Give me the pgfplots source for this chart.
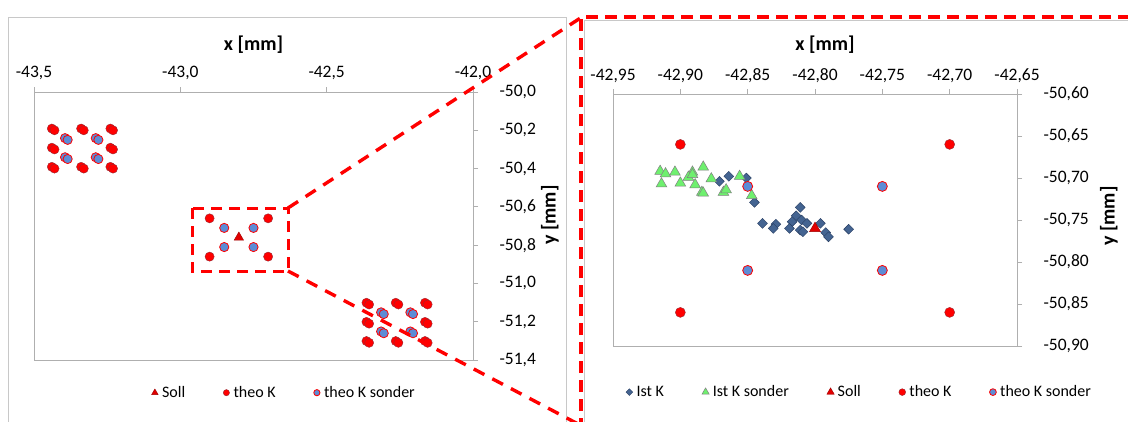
\documentclass[border=0pt]{standalone}
\usepackage{fontspec}
\setmainfont{Carlito}
\usepackage{pgfplots}
\pgfplotsset{compat=1.18}

\definecolor{tkred}{RGB}{255,0,0}
\definecolor{tkedge}{RGB}{150,40,50}
\definecolor{tksblue}{RGB}{92,140,214}
\definecolor{istblue}{RGB}{68,100,145}
\definecolor{istdark}{RGB}{40,62,98}
\definecolor{istgreen}{RGB}{110,240,110}
\definecolor{sollred}{RGB}{225,0,0}
\definecolor{axgray}{RGB}{175,175,175}
\definecolor{framegray}{RGB}{200,200,200}
\definecolor{zoomred}{RGB}{255,0,0}

\pgfplotsset{
  excel/.style={
    scale only axis,
    axis line style={axgray, line width=0.9bp},
    tick style={axgray, line width=0.9bp},
    major tick length=5bp,
    tick align=outside,
    xtick pos=right,
    ytick pos=right,
    xticklabel pos=right,
    yticklabel pos=right,
    ticklabel style={font=\fontsize{17.5bp}{20bp}\selectfont, text=black},
    xticklabel style={anchor=center, yshift=14bp},
    yticklabel style={anchor=west, xshift=18bp},
    legend style={draw=none, fill=none, font=\fontsize{16bp}{19bp}\selectfont,
      legend columns=-1, anchor=center,
      /tikz/every even column/.append style={column sep=36bp}},
    legend image code/.code={\draw[#1, every mark/.append style={scale=0.68}] plot coordinates {(0bp,0bp)};
      \path (-3bp,0bp) (5bp,0bp);},
  },
  theoK/.style={only marks, mark=*, mark size=4.6bp, mark options={fill=tkred, draw=tkedge, line width=0.4bp}},
  theoKs/.style={only marks, mark=*, mark size=4.6bp, mark options={fill=tksblue, draw=tkred, line width=0.8bp}},
  soll/.style={only marks, mark=triangle*, mark size=5.5bp, mark options={fill=sollred, draw=sollred!70!black, line width=0.4bp}},
  istK/.style={only marks, mark=square*, mark size=3.5bp, mark options={rotate=45, fill=istblue, draw=istdark, line width=0.4bp}},
  istKs/.style={only marks, mark=triangle*, mark size=6.2bp, mark options={fill=istgreen, draw=gray, line width=0.5bp}},
}

\begin{document}
\begin{tikzpicture}
\fill[white] (0,0) rectangle (1128bp,-422bp);
\clip (0,0) rectangle (1128bp,-422bp);
\draw[framegray, line width=0.8bp] (8bp,-430bp) -- (8bp,-17bp) -- (566bp,-17bp) -- (566bp,-430bp);
\draw[framegray, line width=0.8bp] (584bp,-430bp) -- (584bp,-20bp) -- (1140bp,-20bp);

% ---------------- left overview chart ----------------
\begin{axis}[excel,
  at={(34bp,-360bp)}, anchor=south west,
  width=439bp, height=268bp,
  xmin=-43.5, xmax=-42.0, ymin=-51.4, ymax=-50.0,
  xtick={-43.5,-43.0,-42.5,-42.0},
  ytick={-51.4,-51.2,-51.0,-50.8,-50.6,-50.4,-50.2,-50.0},
  /pgf/number format/.cd, fixed, fixed zerofill, precision=1, use comma, 1000 sep={}, assume math mode=true,
  /pgfplots/.cd,
  every axis x label/.style={at={(axis description cs:0.5,1)}, anchor=center, yshift=47bp, font=\fontsize{20bp}{24bp}\selectfont\bfseries},
  every axis y label/.style={at={(axis description cs:1,0.5)}, xshift=77bp, yshift=11bp, rotate=90, anchor=center, font=\fontsize{20bp}{24bp}\selectfont\bfseries},
  xlabel={x [mm]}, ylabel={y [mm]},
  legend style={at={(axis description cs:0.57,-0.122)}},
]
\addplot[soll] coordinates {(-42.80,-50.76)};
\addlegendentry{Soll}
\addplot[theoK] coordinates {
 (-43.439,-50.191) (-43.339,-50.191) (-43.239,-50.191)
 (-43.439,-50.291) (-43.239,-50.291)
 (-43.439,-50.391) (-43.339,-50.391) (-43.239,-50.391)
 (-43.43,-50.20) (-43.33,-50.20) (-43.23,-50.20)
 (-43.43,-50.30) (-43.23,-50.30)
 (-43.43,-50.40) (-43.33,-50.40) (-43.23,-50.40)
 (-42.90,-50.66) (-42.70,-50.66) (-42.90,-50.86) (-42.70,-50.86)
 (-42.364,-51.101) (-42.264,-51.101) (-42.164,-51.101)
 (-42.364,-51.201) (-42.164,-51.201)
 (-42.364,-51.301) (-42.264,-51.301) (-42.164,-51.301)
 (-42.355,-51.11) (-42.255,-51.11) (-42.155,-51.11)
 (-42.355,-51.21) (-42.155,-51.21)
 (-42.355,-51.31) (-42.255,-51.31) (-42.155,-51.31)
};
\addlegendentry{theo K}
\addplot[theoKs] coordinates {
 (-43.394,-50.241) (-43.289,-50.241) (-43.394,-50.341) (-43.289,-50.341)
 (-43.385,-50.25) (-43.28,-50.25) (-43.385,-50.35) (-43.28,-50.35)
 (-42.85,-50.71) (-42.75,-50.71) (-42.85,-50.81) (-42.75,-50.81)
 (-42.314,-51.151) (-42.214,-51.151) (-42.314,-51.251) (-42.214,-51.251)
 (-42.305,-51.16) (-42.205,-51.16) (-42.305,-51.26) (-42.205,-51.26)
};
\addlegendentry{theo K sonder}
\end{axis}

% ---------------- right detail chart ----------------
\begin{axis}[excel,
  at={(613bp,-346bp)}, anchor=south west,
  width=404bp, height=252bp,
  xmin=-42.95, xmax=-42.65, ymin=-50.90, ymax=-50.60,
  xtick={-42.95,-42.90,-42.85,-42.80,-42.75,-42.70,-42.65},
  ytick={-50.90,-50.85,-50.80,-50.75,-50.70,-50.65,-50.60},
  xticklabel style={yshift=-1bp},
  /pgf/number format/.cd, fixed, fixed zerofill, precision=2, use comma, 1000 sep={}, assume math mode=true,
  /pgfplots/.cd,
  every axis x label/.style={at={(axis description cs:0.5,1)}, anchor=center, xshift=10bp, yshift=49bp, font=\fontsize{20bp}{24bp}\selectfont\bfseries},
  every axis y label/.style={at={(axis description cs:1,0.5)}, xshift=92bp, yshift=4bp, rotate=90, anchor=center, font=\fontsize{20bp}{24bp}\selectfont\bfseries},
  xlabel={x [mm]}, ylabel={y [mm]},
  legend style={at={(axis description cs:0.61,-0.183)}},
]
\addplot[istK] coordinates {
 (-42.871,-50.704) (-42.864,-50.698) (-42.851,-50.700) (-42.845,-50.729)
 (-42.839,-50.754) (-42.829,-50.755) (-42.831,-50.760)
 (-42.811,-50.735) (-42.814,-50.745) (-42.817,-50.752) (-42.819,-50.760)
 (-42.810,-50.750) (-42.806,-50.754) (-42.811,-50.762) (-42.809,-50.764)
 (-42.796,-50.754) (-42.792,-50.765) (-42.790,-50.770) (-42.775,-50.761)
};
\addlegendentry{Ist K}
\addplot[istKs] coordinates {
 (-42.915,-50.692) (-42.911,-50.695) (-42.914,-50.707) (-42.904,-50.693)
 (-42.900,-50.706) (-42.891,-50.693) (-42.894,-50.699) (-42.891,-50.696)
 (-42.889,-50.708) (-42.883,-50.687) (-42.884,-50.717) (-42.883,-50.718)
 (-42.877,-50.701) (-42.868,-50.717) (-42.866,-50.714) (-42.856,-50.698)
 (-42.847,-50.721)
};
\addlegendentry{Ist K sonder}
\addplot[soll, mark size=6.3bp] coordinates {(-42.80,-50.76)};
\addlegendentry{Soll}
\addplot[theoK, mark size=5bp] coordinates {(-42.90,-50.66) (-42.70,-50.66) (-42.90,-50.86) (-42.70,-50.86)};
\addlegendentry{theo K}
\addplot[theoKs, mark size=5bp] coordinates {(-42.85,-50.71) (-42.75,-50.71) (-42.85,-50.81) (-42.75,-50.81)};
\addlegendentry{theo K sonder}
\end{axis}

% zoom indication
\draw[zoomred, line width=3.6bp, dash pattern=on 12bp off 7bp] (581bp,-430bp) -- (581bp,-17bp) -- (1140bp,-17bp);
\draw[zoomred, line width=3bp, dash pattern=on 11bp off 7bp] (192bp,-208bp) rectangle (288bp,-271bp);
\draw[zoomred, line width=3.4bp, dash pattern=on 12bp off 9bp] (288bp,-208bp) -- (582bp,-17bp);
\draw[zoomred, line width=3.4bp, dash pattern=on 12bp off 9bp] (288bp,-271bp) -- (580bp,-425bp);
\end{tikzpicture}
\end{document}
